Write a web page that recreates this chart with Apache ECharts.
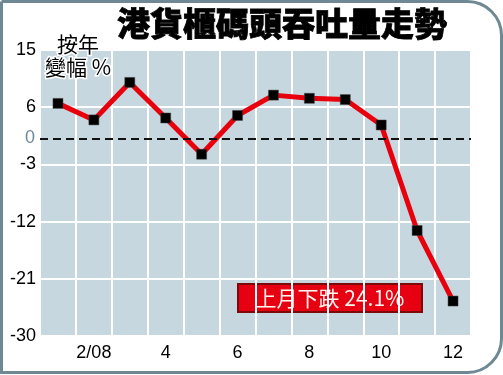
<!DOCTYPE html>
<html><head><meta charset="utf-8">
<script src="https://cdn.jsdelivr.net/npm/echarts@6/dist/echarts.min.js"></script>
<style>html,body{margin:0;padding:0;background:#fff}#c{width:503px;height:375px}</style>
</head><body><div id="c"></div>
<script>
const categories = ['1','2/08','3','4','5','6','7','8','9','10','11','12'];
const yoyChange = [6.6, 4.0, 9.9, 4.3, -1.4, 4.7, 7.9, 7.4, 7.2, 3.2, -13.4, -24.5];
const yMin = -30, yMax = 15, yStep = 9;
const zeroLineAt = 1.1;
const titleText = '港貨櫃碼頭吞吐量走勢';
const unitText = '按年\n變幅 %';
const noteText = '上月下跌 24.1%';

const chart = echarts.init(document.getElementById('c'), null, {renderer:'canvas'});
const numFont = '"Liberation Sans", Arial, sans-serif';
const cjkFont = '"Noto Sans CJK TC", "Noto Sans CJK SC", sans-serif';
chart.setOption({
  animation: false,
  backgroundColor: 'transparent',
  grid: {left: 40, right: 32, top: 50, bottom: 39, show: true, backgroundColor: '#c7d7df', borderWidth: 0},
  xAxis: {
    type: 'category', data: categories, boundaryGap: true,
    axisLine: {show: false}, axisTick: {show: false},
    axisLabel: {interval: (i) => i % 2 === 1, color: '#000', fontSize: 18, fontFamily: numFont, margin: 8},
    splitLine: {show: true, interval: 0, lineStyle: {color: '#fff', width: 2}}
  },
  yAxis: {
    type: 'value', min: yMin, max: yMax, interval: yStep,
    axisLine: {show: false}, axisTick: {show: false},
    axisLabel: {color: '#000', fontSize: 18, fontFamily: numFont, margin: 4, padding: [10, 0, 0, 0]},
    splitLine: {show: true, lineStyle: {color: '#fff', width: 2}}
  },
  series: [
    {
      type: 'line', data: [], z: 1,
      markLine: {
        silent: true, symbol: 'none',
        lineStyle: {color: '#111', width: 2, type: [8, 5]},
        label: {show: true, position: 'start', formatter: '0', color: '#6e8a99', fontSize: 18, fontFamily: numFont, distance: 5},
        data: [{yAxis: zeroLineAt}]
      }
    },
    {
      type: 'line', data: yoyChange, z: 3,
      lineStyle: {color: '#e8000d', width: 5},
      symbol: 'rect', symbolSize: 10,
      itemStyle: {color: '#000', borderColor: '#444', borderWidth: 0.5}
    }
  ],
  graphic: [
    {type: 'rect', z: -10, shape: {x: 1.5, y: 1.5, width: 500, height: 371, r: [0, 34, 34, 0]},
     style: {fill: 'none', stroke: '#6e8894', lineWidth: 3}},
    {type: 'text', z: 10, x: 282, y: 23, style: {text: titleText, font: '900 33px ' + cjkFont, fill: '#000', align: 'center', verticalAlign: 'middle', stroke: '#000', lineWidth: 0.8}},
    {type: 'text', z: 10, x: 78, y: 33, style: {text: unitText, font: '21px ' + cjkFont, fill: '#000', align: 'center', verticalAlign: 'top', lineHeight: 23, stroke: '#fff', lineWidth: 3}},
    {type: 'group', z: 10, children: [
      {type: 'rect', shape: {x: 238, y: 284, width: 184, height: 28}, style: {fill: '#e60012', stroke: '#7d0a0a', lineWidth: 2}},
      {type: 'text', x: 330, y: 298, style: {text: noteText, font: '21px ' + cjkFont, fill: '#fff4ee', align: 'center', verticalAlign: 'middle'}}
    ]}
  ]
});
</script></body></html>
